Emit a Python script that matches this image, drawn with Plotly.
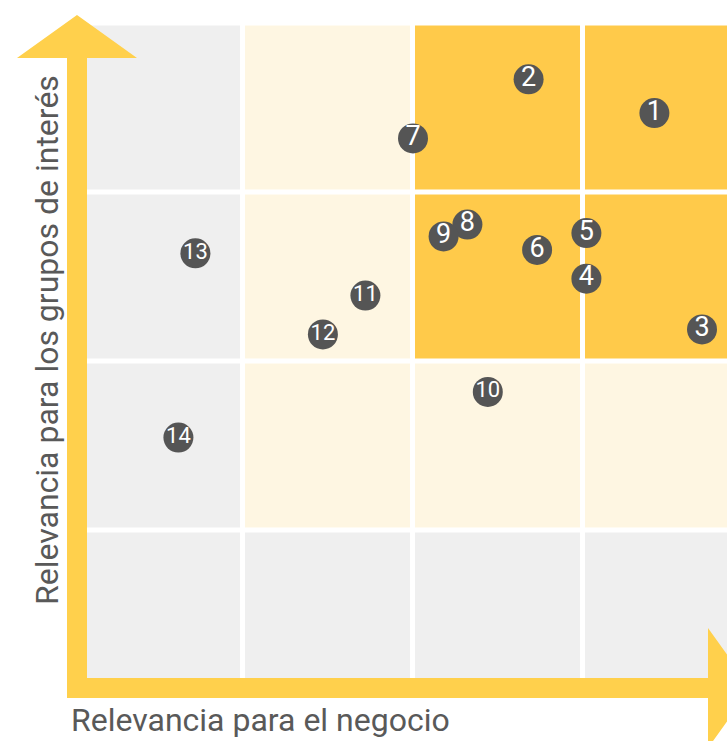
import plotly.graph_objects as go

# ---- data ----
labels = ["1", "2", "3", "4", "5", "6", "7", "8", "9", "10", "11", "12", "13", "14"]
negocio = [3.42, 2.68, 3.70, 3.02, 3.02, 2.73, 2.00, 2.32, 2.18, 2.44, 1.72, 1.47, 0.72, 0.62]
grupos = [3.47, 3.67, 2.19, 2.49, 2.76, 2.66, 3.32, 2.81, 2.74, 1.82, 2.39, 2.16, 2.64, 1.55]

cell_x = [0.5, 1.5, 2.5, 3.5]
cell_y = [0.5, 1.5, 2.5, 3.5]
# 0 = grey, 1 = pale yellow, 2 = yellow  (rows bottom -> top)
cell_level = [
    [0, 0, 0, 0],
    [0, 1, 1, 1],
    [0, 1, 2, 2],
    [0, 1, 2, 2],
]

x_title = "Relevancia para el negocio"
y_title = "Relevancia para los grupos de interés"

# ---- styling ----
W, H = 727, 741
GREY = "#efefef"
PALE = "#fef6e2"
YELLOW = "#ffca4a"
ARROW = "#ffd04c"
DARK = "#555555"
TEXT = "#595959"
FONT = "Roboto"

fig = go.Figure()

fig.add_trace(go.Heatmap(
    x=cell_x, y=cell_y, z=cell_level,
    zmin=0, zmax=2,
    colorscale=[[0, GREY], [0.333, GREY], [0.333, PALE], [0.667, PALE],
                [0.667, YELLOW], [1, YELLOW]],
    showscale=False, xgap=5, ygap=5, hoverinfo="skip",
))

label_sizes = [27 if len(s) == 1 else 22 for s in labels]

fig.add_trace(go.Scatter(
    x=negocio, y=grupos, text=labels,
    mode="markers+text",
    marker=dict(size=30, color=DARK, line=dict(width=0)),
    textposition="middle center",
    textfont=dict(family=FONT, size=label_sizes, color="white"),
    hoverinfo="text", cliponaxis=False,
))

# axis arrows (pixel outline converted to paper coords)
def P(px, py):
    return f"{px / W:.5f},{1 - py / H:.5f}"

pts = [(67, 698), (67, 58), (17, 58), (77, 15), (137, 58), (87, 58), (87, 678),
       (708, 678), (708, 628), (751, 688), (708, 748), (708, 698)]
path = "M " + " L ".join(P(a, b) for a, b in pts) + " Z"
fig.add_shape(type="path", path=path, xref="paper", yref="paper",
              fillcolor=ARROW, line=dict(width=0), layer="above")

fig.add_annotation(text=x_title, xref="paper", yref="paper",
                   x=260 / W, y=1 - 720 / H, xanchor="center", yanchor="middle",
                   showarrow=False, font=dict(family=FONT, size=32, color=TEXT))
fig.add_annotation(text=y_title, xref="paper", yref="paper", textangle=-90,
                   x=47 / W, y=1 - 340 / H, xanchor="center", yanchor="middle",
                   showarrow=False, font=dict(family=FONT, size=32, color=TEXT))

# pixel x = 73 + 170*u ; pixel y = 699.5 - 169*v
fig.update_layout(
    width=W, height=H,
    margin=dict(l=0, r=0, t=0, b=0),
    paper_bgcolor="white", plot_bgcolor="white",
    xaxis=dict(range=[(0 - 73) / 170, (W - 73) / 170], visible=False, fixedrange=True),
    yaxis=dict(range=[(699.5 - H) / 169, 699.5 / 169], visible=False, fixedrange=True),
    showlegend=False,
)

fig.write_html(
    "out.html",
    config={"displayModeBar": False},
    post_script=("document.body.style.margin='0';"
                 "document.body.style.overflow='hidden';"
                 "document.documentElement.style.overflow='hidden';"),
)
